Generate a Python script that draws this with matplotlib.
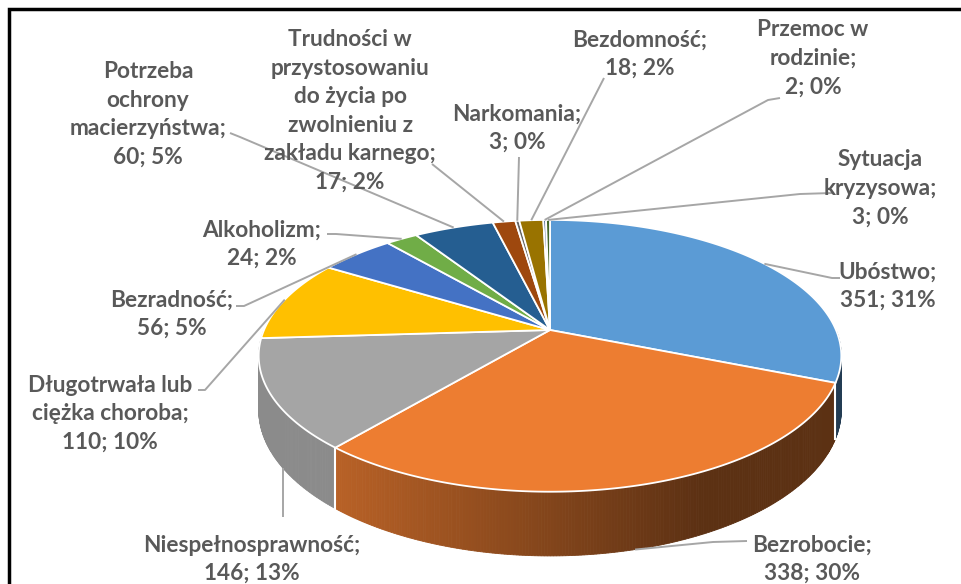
import numpy as np
import matplotlib
matplotlib.use("Agg")
import matplotlib.pyplot as plt
from matplotlib.patches import Polygon
from matplotlib.colors import to_rgb

# ---------------- data ----------------
categories = ["Ubóstwo", "Bezrobocie", "Niespełnosprawność",
              "Długotrwała lub ciężka choroba", "Bezradność", "Alkoholizm",
              "Potrzeba ochrony macierzyństwa",
              "Trudności w przystosowaniu do życia po zwolnieniu z zakładu karnego",
              "Narkomania", "Bezdomność", "Przemoc w rodzinie", "Sytuacja kryzysowa"]
values = [351, 338, 146, 110, 56, 24, 60, 17, 3, 18, 2, 3]
label_lines = [["Ubóstwo;"], ["Bezrobocie;"], ["Niespełnosprawność;"],
               ["Długotrwała lub", "ciężka choroba;"], ["Bezradność;"],
               ["Alkoholizm;"], ["Potrzeba", "ochrony", "macierzyństwa;"],
               ["Trudności w", "przystosowaniu", "do życia po", "zwolnieniu z",
                "zakładu karnego;"],
               ["Narkomania;"], ["Bezdomność;"], ["Przemoc w", "rodzinie;"],
               ["Sytuacja", "kryzysowa;"]]

# ---------------- styles / layout ----------------
colors = ["#5B9BD5", "#ED7D31", "#A5A5A5", "#FFC000", "#4472C4", "#70AD47",
          "#255E91", "#9E480E", "#636363", "#997300", "#264478", "#43682B"]
CX, CY, A, B, K, H = 550, 330, 286, 131, 0.19, 52
label_pos = [(888, 272), (812, 545), (252, 545), (110, 385), (172, 300),
             (262, 230), (148, 72), (350, 40), (517, 114), (640, 40),
             (813, 30), (880, 160)]
leader_pts = [[(832, 278), (840, 278)],
              [(713, 542), (747, 541)],
              [(283, 517)],
              [(205, 390), (198, 390)],
              [(244, 306), (236, 306)],
              [(336, 234), (327, 234)],
              [(240, 137), (230, 133)],
              [(432, 164)],
              [(519, 157)],
              [(604, 78)],
              [(768, 100), (780, 98)],
              [(800, 194), (832, 193)]]
# anchor: None -> slice mid-angle on rim; number -> vertical drop at that x
anchor_bottom = [False, True, True] + [False] * 9
anchor_x = [None, None, 283] + [None] * 9
LINE_H = 28.4
TXT = "#595959"
LEAD = "#A6A6A6"
FS = 16.3

def proj(theta, depth=0.0):
    t = np.radians(theta)
    u, v = np.sin(t), np.cos(t)
    s = 1.0 / (1.0 + K * v)
    return CX + A * u * s, CY - B * v * s + depth * H * s

def side_factor(i, x):
    if i == 2:
        return 0.84
    return float(np.interp(x, [335, 700], [0.78, 0.39]))

fig = plt.figure(figsize=(9.61, 5.84), dpi=100)
ax = fig.add_axes([0, 0, 1, 1])
ax.set_xlim(0, 961)
ax.set_ylim(584, 0)
ax.axis("off")

total = sum(values)
cum = np.concatenate([[0], np.cumsum(values)]) / total * 360.0

# ---- side walls (front half), painter's order back-to-front ----
quads = []
for i in range(len(values)):
    a0, a1 = max(cum[i], 90), min(cum[i + 1], 270)
    if a1 <= a0:
        continue
    ts = np.linspace(a0, a1, max(2, int((a1 - a0) / 0.5) + 2))
    for j in range(len(ts) - 1):
        p1, p2 = proj(ts[j]), proj(ts[j + 1])
        q1, q2 = proj(ts[j + 1], 1), proj(ts[j], 1)
        depth_key = np.cos(np.radians(0.5 * (ts[j] + ts[j + 1])))
        xm = 0.5 * (p1[0] + p2[0])
        f = side_factor(i, xm)
        c = np.array(to_rgb(colors[i])) * f
        quads.append((depth_key, [p1, p2, q1, q2], c))
quads.sort(key=lambda q: -q[0])
for _, pts, c in quads:
    ax.add_patch(Polygon(pts, closed=True, facecolor=c, edgecolor=c, lw=0.6,
                         zorder=1))

# white vertical edges between slices on the wall
for i in range(1, len(values)):
    a = cum[i]
    if 100 < a < 260:
        x0, y0 = proj(a)
        x1, y1 = proj(a, 1)
        ax.plot([x0, x1], [y0, y1], color="white", lw=1.5, zorder=2)

# ---- top faces ----
for i in range(len(values)):
    ts = np.linspace(cum[i], cum[i + 1], max(3, int((cum[i + 1] - cum[i]) / 0.5) + 2))
    pts = [(CX, CY)] + [proj(t) for t in ts]
    ax.add_patch(Polygon(pts, closed=True, facecolor=colors[i],
                         edgecolor="white", lw=1.3, joinstyle="miter", zorder=3))

# ---- leader lines & labels ----
for i in range(len(values)):
    mid = 0.5 * (cum[i] + cum[i + 1])
    if anchor_x[i] is not None:
        ts = np.linspace(cum[i], cum[i + 1], 400)
        xs_b = np.array([proj(t, 1)[0] for t in ts])
        t_best = ts[np.argmin(np.abs(xs_b - anchor_x[i]))]
        ax_, ay_ = proj(t_best, 1)
        ax_ = anchor_x[i]
    else:
        ax_, ay_ = proj(mid, 1 if anchor_bottom[i] else 0)
    path = [(ax_, ay_)] + leader_pts[i]
    xs, ys = zip(*path)
    ax.plot(xs, ys, color=LEAD, lw=1.4, zorder=4, solid_capstyle="butt")

    pct = int(round(values[i] / total * 100))
    lines = label_lines[i] + [f"{values[i]}; {pct}%"]
    lx, ly = label_pos[i]
    for k, t in enumerate(lines):
        ax.text(lx, ly + k * LINE_H, t, ha="center", va="center",
                fontsize=FS, fontweight="bold", family="Lato", color=TXT,
                zorder=5)

# frame of the chart area
ax.plot([9, 9, 961], [584, 9, 9], color="black", lw=2.5, zorder=6,
        solid_joinstyle="miter")

fig.savefig("out.png", dpi=100, facecolor="white")
